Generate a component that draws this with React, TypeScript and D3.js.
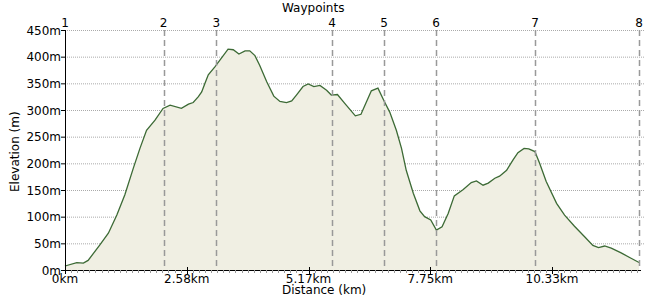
import React from "react";
import * as d3 from "d3";

const distanceKm = [0, 0.02, 0.25, 0.39, 0.49, 0.74, 0.92, 1.10, 1.27, 1.45, 1.59, 1.73, 1.91, 2.08, 2.23, 2.47, 2.62, 2.72, 2.83, 2.90, 2.97, 3.04, 3.18, 3.46, 3.57, 3.69, 3.82, 3.92, 4.03, 4.13, 4.28, 4.43, 4.56, 4.70, 4.81, 4.91, 5.05, 5.16, 5.28, 5.41, 5.55, 5.65, 5.78, 5.94, 6.16, 6.28, 6.50, 6.64, 6.77, 6.89, 7.03, 7.14, 7.24, 7.39, 7.53, 7.63, 7.76, 7.88, 8.00, 8.13, 8.26, 8.45, 8.62, 8.73, 8.87, 8.98, 9.12, 9.22, 9.37, 9.51, 9.61, 9.74, 9.84, 9.97, 10.07, 10.21, 10.43, 10.60, 10.81, 11.03, 11.20, 11.32, 11.45, 11.59, 11.80, 12.01, 12.18];
const elevationM = [7, 8, 14, 13, 18, 47, 69, 103, 141, 191, 228, 262, 281, 303, 309, 303, 311, 314, 325, 334, 350, 366, 381, 414, 413, 405, 411, 411, 402, 384, 353, 326, 316, 314, 317, 328, 344, 349, 344, 346, 337, 328, 329, 312, 289, 292, 336, 341, 317, 296, 262, 228, 187, 144, 111, 100, 94, 75, 81, 106, 139, 151, 164, 167, 159, 163, 172, 176, 187, 207, 220, 228, 227, 222, 200, 166, 125, 103, 82, 62, 46, 42, 45, 41, 32, 22, 14];

const waypointLabels = ["1", "2", "3", "4", "5", "6", "7", "8"];
const waypointKm = [0, 2.093, 3.208, 5.668, 6.771, 7.873, 9.973, 12.18];

const yTicks = [0, 50, 100, 150, 200, 250, 300, 350, 400, 450];
const xTickStep = 2.5833;
const xTickLabels = ["0km", "2.58km", "5.17km", "7.75km", "10.33km"];
const xMax = 12.2;

const W = 650, H = 300;
const left = 65, right = 640, top = 30, bottom = 270;
const FONT = "'DejaVu Sans', Verdana, sans-serif";

export default function App() {
  const x = d3.scaleLinear().domain([0, xMax]).range([left, right]);
  const y = d3.scaleLinear().domain([0, 450]).range([bottom, top]);
  const pts = distanceKm.map((d, i) => [d, elevationM[i]] as [number, number]);
  const area = d3.area<[number, number]>().x(d => x(d[0])).y0(y(0)).y1(d => y(d[1]))(pts) || "";
  const line = d3.line<[number, number]>().x(d => x(d[0])).y(d => y(d[1]))(pts) || "";
  const minorTicks: number[] = [];
  for (let v = 0; v <= xMax + 1e-9; v += xTickStep / 20) minorTicks.push(v);

  return (
    <svg width={W} height={H} style={{ position: "absolute", left: 0, top: 0 }} fontFamily={FONT}>
      <rect width={W} height={H} fill="#fff" />
      {yTicks.slice(1).map(t => (
        <line key={t} x1={left} x2={645} y1={y(t) + 0.5} y2={y(t) + 0.5} stroke="#aaa" strokeDasharray="1,1" />
      ))}
      <path d={area} fill="#f0efe3" />
      <path d={line} fill="none" stroke="#3c6a35" strokeWidth={1.3} />
      {waypointKm.map((k, i) => (
        <g key={i}>
          {i > 0 && <line x1={Math.round(x(k)) + 0.5} x2={Math.round(x(k)) + 0.5} y1={top} y2={bottom} stroke="#999" strokeWidth={1.5} strokeDasharray="6,4" />}
          <text x={x(k)} y={27} textAnchor="middle" fontSize={12} fill="#000">{waypointLabels[i]}</text>
        </g>
      ))}
      <text x={282} y={12} fontSize={12} fill="#000">Waypoints</text>
      {/* y axis */}
      <line x1={left + 0.5} x2={left + 0.5} y1={top} y2={bottom} stroke="#000" />
      {yTicks.map(t => (
        <g key={t}>
          <line x1={left - 4} x2={left} y1={y(t) + 0.5} y2={y(t) + 0.5} stroke="#000" />
          <text x={left - 4} y={y(t) + 4.5} textAnchor="end" fontSize={12} fill="#000">{t}m</text>
        </g>
      ))}
      {/* x axis */}
      <line x1={left} x2={right + 1} y1={bottom + 0.5} y2={bottom + 0.5} stroke="#000" />
      {minorTicks.map((t, i) => (
        <line key={i} x1={Math.round(x(t)) + 0.5} x2={Math.round(x(t)) + 0.5} y1={bottom} y2={bottom + 3} stroke="#999" />
      ))}
      {xTickLabels.map((lab, i) => (
        <g key={lab}>
          <line x1={Math.round(x(i * xTickStep)) + 0.5} x2={Math.round(x(i * xTickStep)) + 0.5} y1={bottom - 3} y2={bottom + 4} stroke="#000" />
          <text x={x(i * xTickStep)} y={283} textAnchor="middle" fontSize={12} fill="#000">{lab}</text>
        </g>
      ))}
      <text x={282} y={294} fontSize={12} fill="#000">Distance (km)</text>
      <text transform="translate(19,192) rotate(-90)" fontSize={12} fill="#000">Elevation (m)</text>
    </svg>
  );
}
